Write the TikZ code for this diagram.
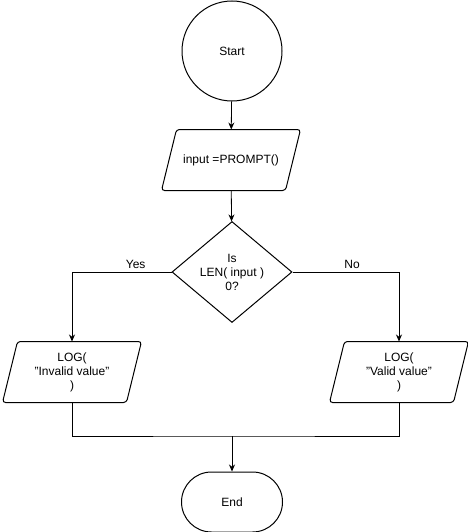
\documentclass[tikz,border=0pt]{standalone}
\usepackage{fontspec}
\setmainfont{Liberation Sans}
\usetikzlibrary{shapes.geometric,arrows.meta}
\newcommand\myparabox[3]{%
 \node[base,draw=none,rectangle,minimum width=138pt,minimum height=60pt] (#1) at (#2) {#3};
 \draw[line width=1pt,rounded corners=3pt] ([xshift=15pt]#1.north west) -- (#1.north east) -- ([xshift=-15pt]#1.south east) -- (#1.south west) -- cycle;}
\begin{document}
\begin{tikzpicture}[x=1pt,y=-1pt,
 base/.style={draw,line width=1pt,font=\fontsize{12}{14}\selectfont,align=center,inner sep=0pt},
 arr/.style={line width=0.8pt,-{Stealth[length=7pt,width=6pt]}},
 ln/.style={line width=0.8pt}]
\useasboundingbox (0,0) rectangle (467,532);
\node[base,circle,minimum size=100pt] (start) at (232,51) {Start};
\myparabox{in}{231,160}{input =PROMPT()}
\node[base,diamond,minimum width=120pt,minimum height=101pt,aspect=1.2] (d) at (232,272) {Is\\LEN( input )\\0?};
\myparabox{l}{72,372}{LOG(\\ "Invalid value"\\ )}
\myparabox{r}{399,372}{LOG(\\ "Valid value"\\ )}
\node[base,rounded corners=30pt,minimum width=101pt,minimum height=60pt] (e) at (232,502) {End};
\coordinate (j) at (232,436);
\draw[arr] (start) -- (in);
\draw[arr] (in) -- (d);
\draw[arr] (d.west) -| node[pos=0.18,above,font=\fontsize{12}{14}\selectfont]{Yes} (l.north);
\draw[arr] (d.east) -| node[pos=0.28,above,font=\fontsize{12}{14}\selectfont]{No} (r.north);
\draw[ln] (l.south) |- (j) -| (r.south);
\draw[arr] (j) -- (e);
\end{tikzpicture}
\end{document}
